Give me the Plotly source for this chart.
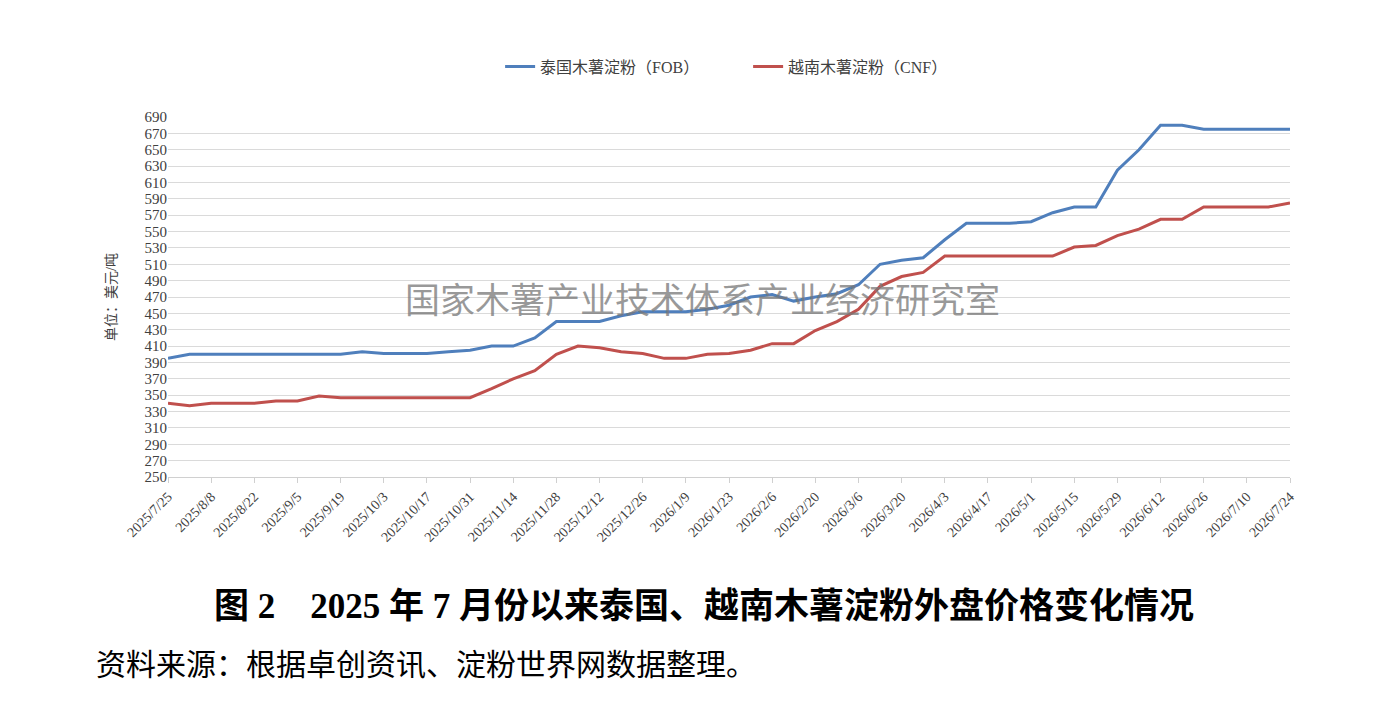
import pandas as pd
import plotly.graph_objects as go

# weekly prices, USD/ton, 2025/7/25 - 2026/7/24
dates = pd.date_range("2025-07-25", "2026-07-24", freq="7D")

thai_fob = [395, 400, 400, 400, 400, 400, 400, 400, 400, 403,
            401, 401, 401, 403, 405, 410, 410, 420, 440, 440,
            440, 447, 452, 452, 452, 455, 460, 470, 473, 465,
            470, 474, 485, 510, 515, 518, 540, 560, 560, 560,
            562, 573, 580, 580, 625, 650, 680, 680, 675, 675,
            675, 675, 675]

viet_cnf = [340, 337, 340, 340, 340, 343, 343, 349, 347, 347,
            347, 347, 347, 347, 347, 358, 370, 380, 400, 410,
            408, 403, 401, 395, 395, 400, 401, 405, 413, 413,
            429, 440, 455, 483, 495, 500, 520, 520, 520, 520,
            520, 520, 531, 533, 545, 553, 565, 565, 580, 580,
            580, 580, 585]

tick_labels = ["2025/7/25", "2025/8/8", "2025/8/22", "2025/9/5", "2025/9/19",
               "2025/10/3", "2025/10/17", "2025/10/31", "2025/11/14", "2025/11/28",
               "2025/12/12", "2025/12/26", "2026/1/9", "2026/1/23", "2026/2/6",
               "2026/2/20", "2026/3/6", "2026/3/20", "2026/4/3", "2026/4/17",
               "2026/5/1", "2026/5/15", "2026/5/29", "2026/6/12", "2026/6/26",
               "2026/7/10", "2026/7/24"]

serif = "Liberation Serif, Noto Sans CJK SC"

fig = go.Figure()
fig.add_trace(go.Scatter(x=dates, y=thai_fob, mode="lines",
                         name="泰国木薯淀粉（FOB）",
                         line=dict(color="#4f7fbc", width=3)))
fig.add_trace(go.Scatter(x=dates, y=viet_cnf, mode="lines",
                         name="越南木薯淀粉（CNF）",
                         line=dict(color="#c0504d", width=3)))

fig.update_layout(
    width=1384, height=702,
    margin=dict(l=160, r=102, t=109, b=233),
    paper_bgcolor="white", plot_bgcolor="white",
    font=dict(family=serif, size=14, color="#404040"),
    legend=dict(orientation="h", x=0.296, xanchor="left", y=1.14, yanchor="middle",
                font=dict(size=16, color="#404040"),
                entrywidth=203, entrywidthmode="pixels",
                traceorder="normal"),
    xaxis=dict(type="date", range=[dates[0], dates[-1]],
               tickvals=list(dates[::2]), ticktext=tick_labels,
               tickangle=-45, showgrid=False, showline=True,
               linecolor="#d0d0d0", linewidth=1,
               ticks="outside", ticklen=5, tickcolor="#d0d0d0",
               tickfont=dict(size=14, color="#404040")),
    yaxis=dict(range=[250, 690], dtick=20, tick0=250,
               showgrid=True, gridcolor="#dadada", gridwidth=1,
               zeroline=False, showline=False,
               tickfont=dict(size=15, color="#404040"),
               title=dict(text="单位：美元/吨", standoff=24,
                          font=dict(size=14, color="#404040"))),
    annotations=[
        dict(text="国家木薯产业技术体系产业经济研究室", xref="paper", yref="paper",
             x=0.476, y=0.5, showarrow=False,
             font=dict(family="Noto Sans CJK SC", size=35, color="rgba(120,120,120,0.75)")),
        dict(text="<b>图 2　2025 年 7 月份以来泰国、越南木薯淀粉外盘价格变化情况</b>",
             xref="paper", yref="paper", x=0.478, y=-0.36, showarrow=False,
             xanchor="center", yanchor="middle",
             font=dict(family=serif, size=35, color="black")),
        dict(text="资料来源：根据卓创资讯、淀粉世界网数据整理。",
             xref="paper", yref="paper", x=-0.066, y=-0.52, showarrow=False,
             xanchor="left", yanchor="middle",
             font=dict(family=serif, size=30, color="black")),
    ],
)

fig.write_html("out.html")
